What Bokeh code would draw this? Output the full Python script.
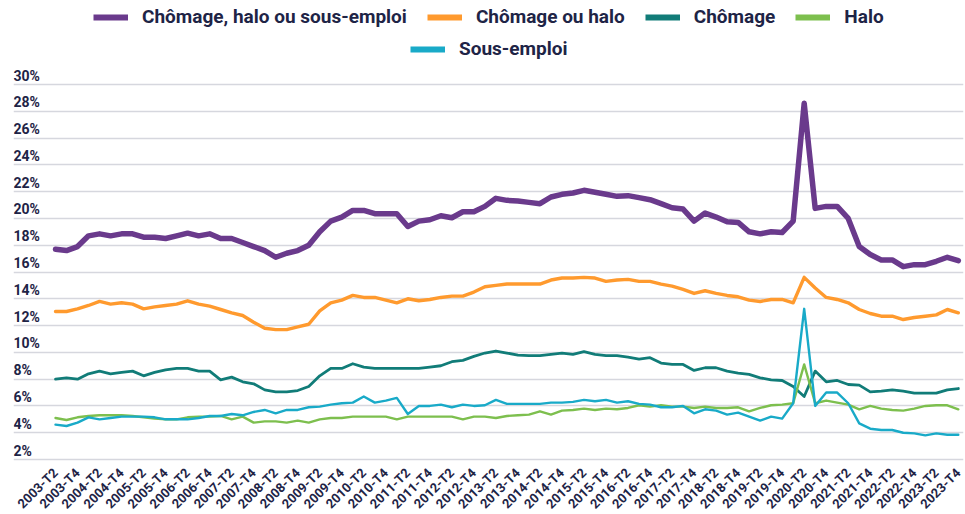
import math
from bokeh.plotting import figure
from bokeh.models import ColumnDataSource, FixedTicker, Legend, LegendItem, Range1d
from bokeh.core.properties import value
from bokeh.embed import file_html
from bokeh.resources import INLINE

# ---------------- data ----------------
quarters = [f"{y}-T{q}" for y in range(2003, 2024) for q in range(1, 5)][1:]  # 2003-T2 .. 2023-T4

chomage_halo_sous_emploi = [
    17.7, 17.6, 17.9, 18.7, 18.85, 18.7, 18.85, 18.85, 18.6, 18.6, 18.5, 18.7, 18.9, 18.7, 18.85, 18.5,
    18.5, 18.2, 17.9, 17.6, 17.1, 17.4,
    17.6, 18.0, 19.0, 19.8, 20.1, 20.6, 20.6, 20.35, 20.35, 20.35, 19.4, 19.8, 19.9, 20.2, 20.05, 20.5,
    20.5, 20.9, 21.5,
    21.35, 21.3, 21.2, 21.1, 21.6, 21.8, 21.9, 22.1, 21.95, 21.8, 21.65, 21.7, 21.55, 21.4, 21.1, 20.8,
    20.7, 19.8, 20.4, 20.1, 19.75, 19.7,
    19.0, 18.85, 19.0, 18.95, 19.8, 28.6, 20.75, 20.9, 20.9, 20.0, 17.9, 17.3, 16.9, 16.9, 16.4, 16.55,
    16.55, 16.8, 17.1, 16.85,
]
chomage_ou_halo = [
    13.05, 13.05, 13.25, 13.5, 13.8, 13.6, 13.7, 13.6, 13.25, 13.4, 13.5, 13.6, 13.85, 13.6, 13.45, 13.2,
    12.95, 12.75, 12.25, 11.8, 11.7, 11.7,
    11.9, 12.1, 13.1, 13.7, 13.9, 14.25, 14.1, 14.1, 13.9, 13.7, 14.0, 13.85, 13.95, 14.1, 14.2, 14.2,
    14.5, 14.9, 15.0,
    15.1, 15.1, 15.1, 15.1, 15.4, 15.55, 15.55, 15.6, 15.55, 15.3, 15.4, 15.45, 15.3, 15.3, 15.1, 14.95,
    14.7, 14.4, 14.6, 14.4, 14.25, 14.15,
    13.9, 13.8, 13.95, 13.95, 13.7, 15.6, 14.8, 14.1, 13.95, 13.7, 13.2, 12.9, 12.7, 12.7, 12.45, 12.6,
    12.7, 12.8, 13.2, 12.95,
]
chomage = [
    8.0, 8.1, 8.0, 8.4, 8.6, 8.4, 8.5, 8.6, 8.25, 8.5, 8.7, 8.8, 8.8, 8.6, 8.6, 7.95,
    8.15, 7.8, 7.65, 7.2, 7.05, 7.05,
    7.15, 7.45, 8.25, 8.8, 8.8, 9.15, 8.9, 8.8, 8.8, 8.8, 8.8, 8.8, 8.9, 9.0, 9.3, 9.4,
    9.7, 9.95, 10.1,
    9.95, 9.8, 9.75, 9.75, 9.85, 9.95, 9.85, 10.05, 9.85, 9.75, 9.75, 9.65, 9.5, 9.6, 9.2, 9.1,
    9.1, 8.65, 8.85, 8.85, 8.6, 8.45,
    8.35, 8.1, 7.95, 7.9, 7.45, 6.7, 8.6, 7.8, 7.9, 7.6, 7.55, 7.05, 7.1, 7.2, 7.1, 6.95,
    6.95, 6.95, 7.2, 7.3,
]
halo = [
    5.1, 4.95, 5.15, 5.25, 5.3, 5.3, 5.3, 5.25, 5.15, 5.05, 5.0, 5.0, 5.15, 5.2, 5.2, 5.25,
    5.0, 5.2, 4.75, 4.85, 4.85, 4.75,
    4.9, 4.75, 5.0, 5.1, 5.1, 5.2, 5.2, 5.2, 5.2, 5.0, 5.2, 5.2, 5.2, 5.2, 5.2, 5.0,
    5.2, 5.2, 5.1,
    5.25, 5.3, 5.35, 5.6, 5.35, 5.65, 5.7, 5.8, 5.7, 5.8, 5.75, 5.85, 6.05, 5.95, 6.05, 5.95,
    5.95, 5.85, 5.95, 5.85, 5.85, 5.9,
    5.6, 5.85, 6.05, 6.1, 6.2, 9.1, 6.2, 6.4, 6.25, 6.1, 5.75, 6.0, 5.8, 5.7, 5.65, 5.8,
    6.0, 6.05, 6.05, 5.75,
]
sous_emploi = [
    4.6, 4.5, 4.75, 5.15, 5.0, 5.1, 5.2, 5.2, 5.2, 5.15, 5.0, 5.0, 5.0, 5.1, 5.25, 5.25,
    5.4, 5.3, 5.55, 5.7, 5.45, 5.7,
    5.7, 5.9, 5.95, 6.1, 6.2, 6.25, 6.7, 6.25, 6.4, 6.6, 5.4, 6.0, 6.0, 6.1, 5.9, 6.1,
    6.0, 6.05, 6.45,
    6.15, 6.15, 6.15, 6.15, 6.25, 6.25, 6.3, 6.45, 6.35, 6.45, 6.25, 6.35, 6.15, 6.1, 5.9, 5.9,
    6.0, 5.45, 5.75, 5.65, 5.35, 5.5,
    5.2, 4.9, 5.2, 5.05, 6.2, 13.25, 6.0, 7.0, 7.0, 6.2, 4.7, 4.3, 4.2, 4.2, 4.0, 3.95,
    3.8, 3.95, 3.85, 3.85,
]

series_names = ["Chômage, halo ou sous-emploi", "Chômage ou halo", "Chômage", "Halo", "Sous-emploi"]
series_values = [chomage_halo_sous_emploi, chomage_ou_halo, chomage, halo, sous_emploi]
series_colors = ["#6a3a8c", "#ff9a2e", "#117c78", "#7dbf4e", "#19aac8"]
series_widths = [5.5, 3.4, 2.8, 2.4, 2.4]

y_ticks = list(range(2, 31, 2))
y_tick_labels = [f"{t}%" for t in y_ticks]
x_tick_idx = list(range(0, len(quarters), 2))

NAVY = "#1e2446"
FONT = "Roboto"

# ---------------- figure ----------------
x0, x1 = -3.815, 82.47
p = figure(
    frame_width=950, frame_height=462,
    x_range=Range1d(x0, x1), y_range=Range1d(1.776, 36.272),
    output_backend="svg", toolbar_location=None,
    min_border_left=13, min_border_right=2, min_border_top=0, min_border_bottom=0,
)
p.outline_line_color = None
p.background_fill_color = "white"
p.border_fill_color = "white"

p.yaxis.visible = False
p.xgrid.visible = False
p.ygrid.ticker = FixedTicker(ticks=y_ticks)
p.ygrid.grid_line_color = "#d6d7de"
p.ygrid.grid_line_width = 1.6

ax = p.xaxis[0]
ax.ticker = FixedTicker(ticks=x_tick_idx)
ax.major_label_overrides = {i: quarters[i] for i in x_tick_idx}
ax.major_label_orientation = math.pi / 4
ax.major_label_text_font = FONT
ax.major_label_text_font_size = "13px"
ax.major_label_text_font_style = "bold"
ax.major_label_text_color = NAVY
ax.axis_line_color = None
ax.major_tick_line_color = None
ax.minor_tick_line_color = None
ax.major_label_standoff = 2

# y tick labels sitting on top of the grid lines
ysrc = ColumnDataSource(dict(x=[x0] * len(y_ticks), y=y_ticks, t=y_tick_labels))
p.text(x="x", y="y", text="t", source=ysrc, text_font=value(FONT), text_font_size="14px",
       text_font_style="bold", text_color=NAVY, text_baseline="bottom", text_align="left",
       y_offset=-1)

# series
xs = list(range(len(quarters)))
for name, vals, col, w in zip(series_names, series_values, series_colors, series_widths):
    p.line(xs, vals, line_color=col, line_width=w, line_join="round", line_cap="round")

# legend swatches (uniform thickness); one NaN point so nothing is drawn in the plot
swatch = []
for name, col in zip(series_names, series_colors):
    r = p.line(x=[xs[0]], y=[float("nan")], line_color=col, line_width=6)
    swatch.append(LegendItem(label=name, renderers=[r]))

def make_legend(items, loc):
    return Legend(items=items, orientation="horizontal", location=loc,
                  border_line_color=None, background_fill_alpha=0,
                  padding=0, margin=0, spacing=20, label_standoff=14,
                  glyph_width=35, glyph_height=20, label_height=20,
                  label_text_font=FONT, label_text_font_size="19px",
                  label_text_font_style="bold", label_text_color=NAVY)

p.add_layout(make_legend(swatch[:4], (80, 434)))
p.add_layout(make_legend(swatch[4:], (397, 402)))

open("out.html", "w").write(file_html(p, INLINE))
